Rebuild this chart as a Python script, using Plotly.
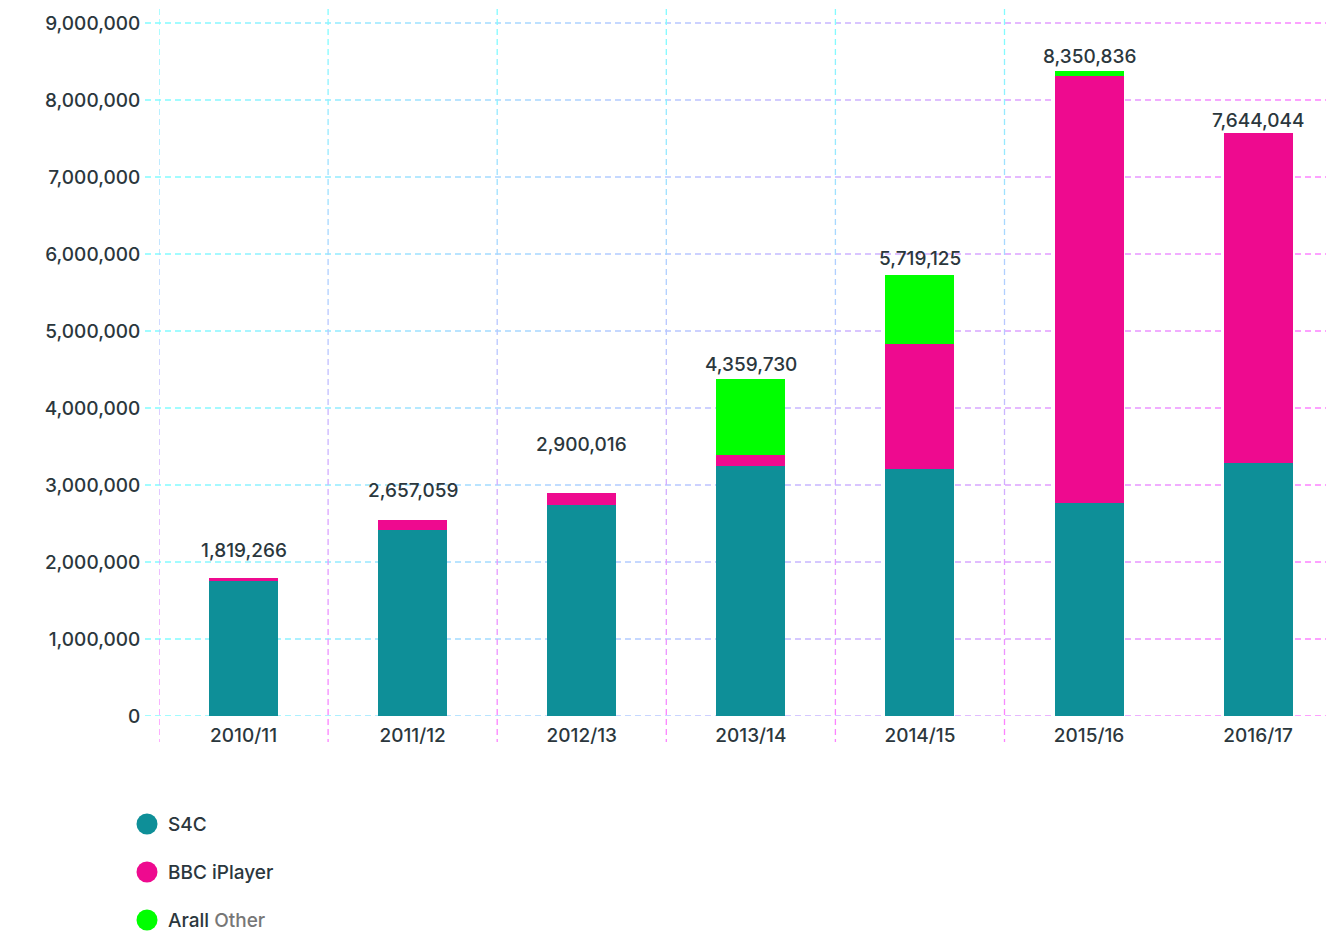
import math
import plotly.graph_objects as go

# ---------------- data ----------------
categories = ["2010/11", "2011/12", "2012/13", "2013/14", "2014/15", "2015/16", "2016/17"]
s4c = [1753000, 2420000, 2736000, 3247000, 3208000, 2766000, 3286000]
iplayer = [39000, 125000, 160000, 143000, 1623000, 5546000, 4285000]
other = [0, 0, 0, 987000, 896000, 65000, 0]
total_labels = ["1,819,266", "2,657,059", "2,900,016", "4,359,730", "5,719,125", "8,350,836", "7,644,044"]
y_tick_values = [0, 1000000, 2000000, 3000000, 4000000, 5000000, 6000000, 7000000, 8000000, 9000000]
y_tick_labels = ["0", "1,000,000", "2,000,000", "3,000,000", "4,000,000", "5,000,000",
                 "6,000,000", "7,000,000", "8,000,000", "9,000,000"]
series_names = ["S4C", "BBC iPlayer", "Arall <span style='color:#777777'>Other</span>"]

# ---------------- styles / layout ----------------
colors = ["#0e8f98", "#ee0a8f", "#00ff00"]
label_offsets_px = [28, 30, 49, 14, 17, 14, 13]
TEXT = "#2b373d"
FONT = "Inter"
OFF = 8                                   # page body margin
W_FIG, H_FIG = 1334, 933 - OFF
L, T, B = 159 - OFF, 9 - OFF, 716 - OFF   # plot area in figure pixels
R = W_FIG
PW, PH = R - L, B - T
BAND = 169.1                              # px per category
Y9 = 23 - OFF                             # pixel row of the 9,000,000 tick

def px_x(p):
    return (p - L) / PW

def px_y(p):
    return (B - p) / PH

fig = go.Figure()
for vals, name, col in zip([s4c, iplayer, other], series_names, colors):
    fig.add_trace(go.Bar(x=list(range(len(categories))), y=vals, name=name,
                         marker=dict(color=col, line=dict(width=0)),
                         width=0.408, showlegend=False, hoverinfo="y"))

# total labels
for i, lab in enumerate(total_labels):
    top = s4c[i] + iplayer[i] + other[i]
    fig.add_annotation(x=i, y=top, text=lab, showarrow=False, xanchor="center",
                       yanchor="middle", yshift=label_offsets_px[i],
                       font=dict(family=FONT, size=19, color=TEXT, weight=500))

# gradient dashed gridlines
CY = (128, 255, 255)
MG = (255, 128, 255)

def lerp(t):
    return "rgb(%d,%d,%d)" % tuple(round(a + (b - a) * t) for a, b in zip(CY, MG))

shapes = []
SEG = 50
DASH = "6px,4px"
# horizontal
hx0, hx1 = 145 - OFF, 1334 - OFF
n = math.ceil((R - hx0) / SEG)
for v in y_tick_values:
    for i in range(n):
        p0 = hx0 + i * SEG
        p1 = min(p0 + SEG, R)
        t = min(1.0, ((p0 + p1) / 2 - hx0) / (hx1 - hx0))
        shapes.append(dict(type="line", xref="paper", yref="y", x0=px_x(p0), x1=px_x(p1),
                           y0=v, y1=v, layer="below",
                           line=dict(color=lerp(t), width=1.3, dash=DASH)))
# vertical
vy0, vy1 = 9 - OFF, 742 - OFF
n = math.ceil((vy1 - vy0) / SEG)
for k in range(len(categories) - 1):
    xv = k - 0.5
    for i in range(n):
        p0 = vy0 + i * SEG
        p1 = min(p0 + SEG, vy1)
        t = ((p0 + p1) / 2 - vy0) / (vy1 - vy0)
        shapes.append(dict(type="line", xref="x", yref="paper", x0=xv, x1=xv,
                           y0=px_y(p0), y1=px_y(p1), layer="below",
                           line=dict(color=lerp(t), width=1.3, dash=DASH)))

# custom legend with round markers
leg_cx, leg_y0, leg_gap = 147 - OFF, 824 - OFF, 48
for i, (name, col) in enumerate(zip(series_names, colors)):
    cy = leg_y0 + i * leg_gap
    shapes.append(dict(type="circle", xref="paper", yref="paper",
                       xsizemode="pixel", ysizemode="pixel",
                       xanchor=px_x(leg_cx), yanchor=px_y(cy),
                       x0=-10.5, x1=10.5, y0=-10.5, y1=10.5,
                       fillcolor=col, line=dict(width=0)))
    fig.add_annotation(xref="paper", yref="paper", x=px_x(166 - OFF), y=px_y(cy), text=name,
                       showarrow=False, xanchor="left", yanchor="middle",
                       font=dict(family=FONT, size=19, color=TEXT, weight=500))

fig.update_layout(
    width=W_FIG, height=H_FIG,
    margin=dict(l=L, r=W_FIG - R, t=T, b=H_FIG - B, pad=0),
    barmode="stack", bargap=0,
    plot_bgcolor="white", paper_bgcolor="white",
    showlegend=False,
    shapes=shapes,
    font=dict(family=FONT, color=TEXT),
    xaxis=dict(range=[-0.5, -0.5 + PW / BAND], tickvals=list(range(len(categories))),
               ticktext=categories, showgrid=False, zeroline=False, showline=False,
               ticks="outside", ticklen=2, tickcolor="rgba(0,0,0,0)",
               tickfont=dict(family=FONT, size=19, color=TEXT, weight=500)),
    yaxis=dict(range=[0, 9000000 * PH / (B - Y9)], tickvals=y_tick_values,
               ticktext=y_tick_labels, showgrid=False, zeroline=False, showline=False,
               ticks="outside", ticklen=14, tickcolor="rgba(0,0,0,0)",
               tickfont=dict(family=FONT, size=19, color=TEXT, weight=500)),
)

fig.write_html("out.html")
